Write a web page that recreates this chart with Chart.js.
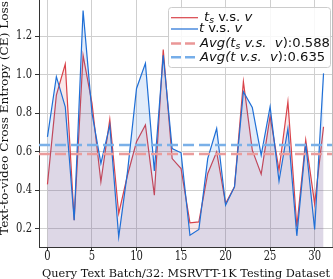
<!DOCTYPE html>
<html>
<head>
<meta charset="utf-8">
<script src="https://cdn.jsdelivr.net/npm/chart.js@4"></script>
<style>
  html, body { margin: 0; padding: 0; background: #fff; }
  canvas { display: block; }
</style>
</head>
<body>
<canvas id="lossChart" width="333" height="279"></canvas>
<script>
// batch index 0..31
var batches = [0, 1, 2, 3, 4, 5, 6, 7, 8, 9, 10, 11, 12, 13, 14, 15,
  16, 17, 18, 19, 20, 21, 22, 23, 24, 25, 26, 27, 28, 29, 30, 31];

// t_s v.s. v (red)
var lossTs = [0.43, 0.893, 1.054, 0.244, 1.10, 0.85, 0.443, 0.767, 0.279, 0.48,
  0.651, 0.738, 0.374, 1.13, 0.564, 0.512, 0.23, 0.235, 0.487, 0.599,
  0.33, 0.417, 0.963, 0.608, 0.483, 0.784, 0.504, 0.859, 0.21, 0.66, 0.33, 0.729];

// t v.s. v (blue)
var lossT = [0.677, 0.989, 0.833, 0.244, 1.332, 0.80, 0.539, 0.738, 0.158, 0.50,
  0.928, 1.058, 0.50, 1.10, 0.616, 0.594, 0.166, 0.196, 0.565, 0.72,
  0.322, 0.417, 0.911, 0.829, 0.582, 0.833, 0.447, 0.72, 0.163, 0.642, 0.196, 1.006];

var avgTs = 0.588;
var avgT = 0.635;

var xTicks = [0, 5, 10, 15, 20, 25, 30];
var yTicks = [0.2, 0.4, 0.6, 0.8, 1.0, 1.2];
var xMin = -0.95, xMax = 31.95;
var yMin = 0.105, yMax = 1.387;

function pts(ys) {
  return batches.map(function (b, i) { return { x: b, y: ys[i] }; });
}
function hline(v) {
  return [{ x: xMin, y: v }, { x: xMax, y: v }];
}

var serif = '"DejaVu Serif", serif';
var sans = '"DejaVu Sans", sans-serif';
var squeeze = 0.8; // the source figure text is narrow

function drawSqueezed(ctx, text, x, y, font, sx, align) {
  ctx.save();
  ctx.translate(x, y);
  ctx.scale(sx, 1);
  ctx.font = font;
  ctx.textAlign = align;
  ctx.fillText(text, 0, 0);
  ctx.restore();
}

function segFont(kind, size) {
  if (kind === 'sub') return 'oblique ' + (size * 0.7) + 'px ' + sans;
  if (kind === 'i') return 'oblique ' + size + 'px ' + sans;
  return size + 'px ' + sans;
}

function segWidth(ctx, segs, size) {
  var w = 0;
  segs.forEach(function (s) {
    ctx.font = segFont(s[1], size);
    w += ctx.measureText(s[0]).width;
  });
  return w;
}

// tick labels, legend and axis titles drawn by hand
var extras = {
  id: 'extras',
  afterDraw: function (chart) {
    var ctx = chart.ctx;
    var area = chart.chartArea;
    var sx = chart.scales.x, sy = chart.scales.y;
    ctx.save();

    // right spine
    ctx.strokeStyle = '#bbbbbb';
    ctx.lineWidth = 1;
    ctx.beginPath();
    ctx.moveTo(area.right + 0.5, 0);
    ctx.lineTo(area.right + 0.5, area.bottom);
    ctx.stroke();

    // tick labels
    ctx.fillStyle = '#222';
    ctx.textBaseline = 'middle';
    var tickFont = '12.5px ' + serif;
    xTicks.forEach(function (v) {
      drawSqueezed(ctx, String(v), sx.getPixelForValue(v), 257, tickFont, squeeze, 'center');
    });
    yTicks.forEach(function (v) {
      drawSqueezed(ctx, v.toFixed(1), 32, sy.getPixelForValue(v), tickFont, squeeze, 'right');
    });

    // axis titles
    var xTitle = 'Query Text Batch/32: MSRVTT-1K Testing Dataset';
    var yTitle = 'Text-to-video Cross Entropy (CE) Loss';
    var titleFont = '11.8px ' + serif;
    ctx.fillStyle = '#111';
    ctx.textBaseline = 'alphabetic';
    ctx.font = titleFont;
    var kx = 288 / ctx.measureText(xTitle).width;
    drawSqueezed(ctx, xTitle, 42, 276.5, titleFont, kx, 'left');
    ctx.save();
    ctx.translate(7.8, 235);
    ctx.rotate(-Math.PI / 2);
    ctx.font = titleFont;
    var ky = 234 / ctx.measureText(yTitle).width;
    drawSqueezed(ctx, yTitle, 0, 0, titleFont, ky, 'left');
    ctx.restore();

    // legend box
    ctx.fillStyle = 'rgba(255,255,255,0.85)';
    ctx.strokeStyle = '#cccccc';
    ctx.lineWidth = 1;
    ctx.beginPath();
    ctx.roundRect(168.5, 7.5, 162, 60, 3);
    ctx.fill();
    ctx.stroke();

    var rows = [
      { y: 17.7, color: '#d9434a', w: 1.2, dash: [], x0: 204,
        segs: [['t', 'i'], ['s', 'sub'], [' v.s. ', 'n'], ['v', 'i']] },
      { y: 29, color: '#1f6fd6', w: 1.2, dash: [], x0: 199,
        segs: [['t', 'i'], [' v.s. ', 'n'], ['v', 'i']] },
      { y: 43.5, color: '#ea9797', w: 2.6, dash: [10, 4], x0: 200,
        segs: [['Avg(', 'i'], ['t', 'i'], ['s', 'sub'], [' v.s.  v', 'i'], ['):0.588', 'n']] },
      { y: 57.3, color: '#76aee9', w: 2.6, dash: [10, 4], x0: 200,
        segs: [['Avg(', 'i'], ['t v.s.  v', 'i'], ['):0.635', 'n']] }
    ];
    var size = 13;
    // squeeze chosen so that row 3 spans 200..330
    var k = 130 / segWidth(ctx, rows[2].segs, size);
    rows.forEach(function (r) {
      ctx.strokeStyle = r.color;
      ctx.lineWidth = r.w;
      ctx.setLineDash(r.dash);
      ctx.beginPath();
      ctx.moveTo(171, r.y);
      ctx.lineTo(198, r.y);
      ctx.stroke();
      ctx.setLineDash([]);

      var x = r.x0;
      ctx.fillStyle = '#111';
      ctx.textBaseline = 'middle';
      r.segs.forEach(function (s) {
        var f = segFont(s[1], size);
        drawSqueezed(ctx, s[0], x, r.y + (s[1] === 'sub' ? 3 : 0), f, k, 'left');
        ctx.font = f;
        x += ctx.measureText(s[0]).width * k;
      });
    });
    ctx.restore();
  }
};

var ctx = document.getElementById('lossChart').getContext('2d');

var lossChart = new Chart(ctx, {
  type: 'line',
  data: {
    datasets: [
      {
        label: 'avg t',
        data: hline(avgT),
        borderColor: '#7ab0e8',
        borderWidth: 2.5,
        borderDash: [11, 5],
        pointRadius: 0,
        fill: false
      },
      {
        label: 'avg ts',
        data: hline(avgTs),
        borderColor: '#eb9c9c',
        borderWidth: 2.5,
        borderDash: [11, 5],
        pointRadius: 0,
        fill: false
      },
      {
        label: 't v.s. v',
        data: pts(lossT),
        borderColor: '#1f6fd6',
        backgroundColor: 'rgba(31,111,214,0.13)',
        borderWidth: 1.2,
        pointRadius: 0,
        tension: 0,
        fill: 'origin'
      },
      {
        label: 'ts v.s. v',
        data: pts(lossTs),
        borderColor: '#d9434a',
        backgroundColor: 'rgba(217,67,74,0.12)',
        borderWidth: 1.2,
        pointRadius: 0,
        tension: 0,
        fill: 'origin'
      }
    ]
  },
  options: {
    responsive: false,
    animation: false,
    devicePixelRatio: 1,
    layout: { padding: { left: 0, right: 1, top: 0, bottom: 0 } },
    plugins: {
      legend: { display: false },
      tooltip: { enabled: false }
    },
    scales: {
      x: {
        type: 'linear',
        min: xMin,
        max: xMax,
        afterBuildTicks: function (s) { s.ticks = xTicks.map(function (v) { return { value: v }; }); },
        afterFit: function (s) { s.height = 32; },
        ticks: { display: false },
        grid: { color: '#cfcfcf', tickColor: '#333', tickLength: 4 },
        border: { color: '#333' }
      },
      y: {
        min: yMin,
        max: yMax,
        afterBuildTicks: function (s) { s.ticks = yTicks.map(function (v) { return { value: v }; }); },
        afterFit: function (s) { s.width = 39; },
        ticks: { display: false },
        grid: { color: '#cfcfcf', tickColor: '#333', tickLength: 4 },
        border: { color: '#333' }
      }
    }
  },
  plugins: [extras]
});
</script>
</body>
</html>
